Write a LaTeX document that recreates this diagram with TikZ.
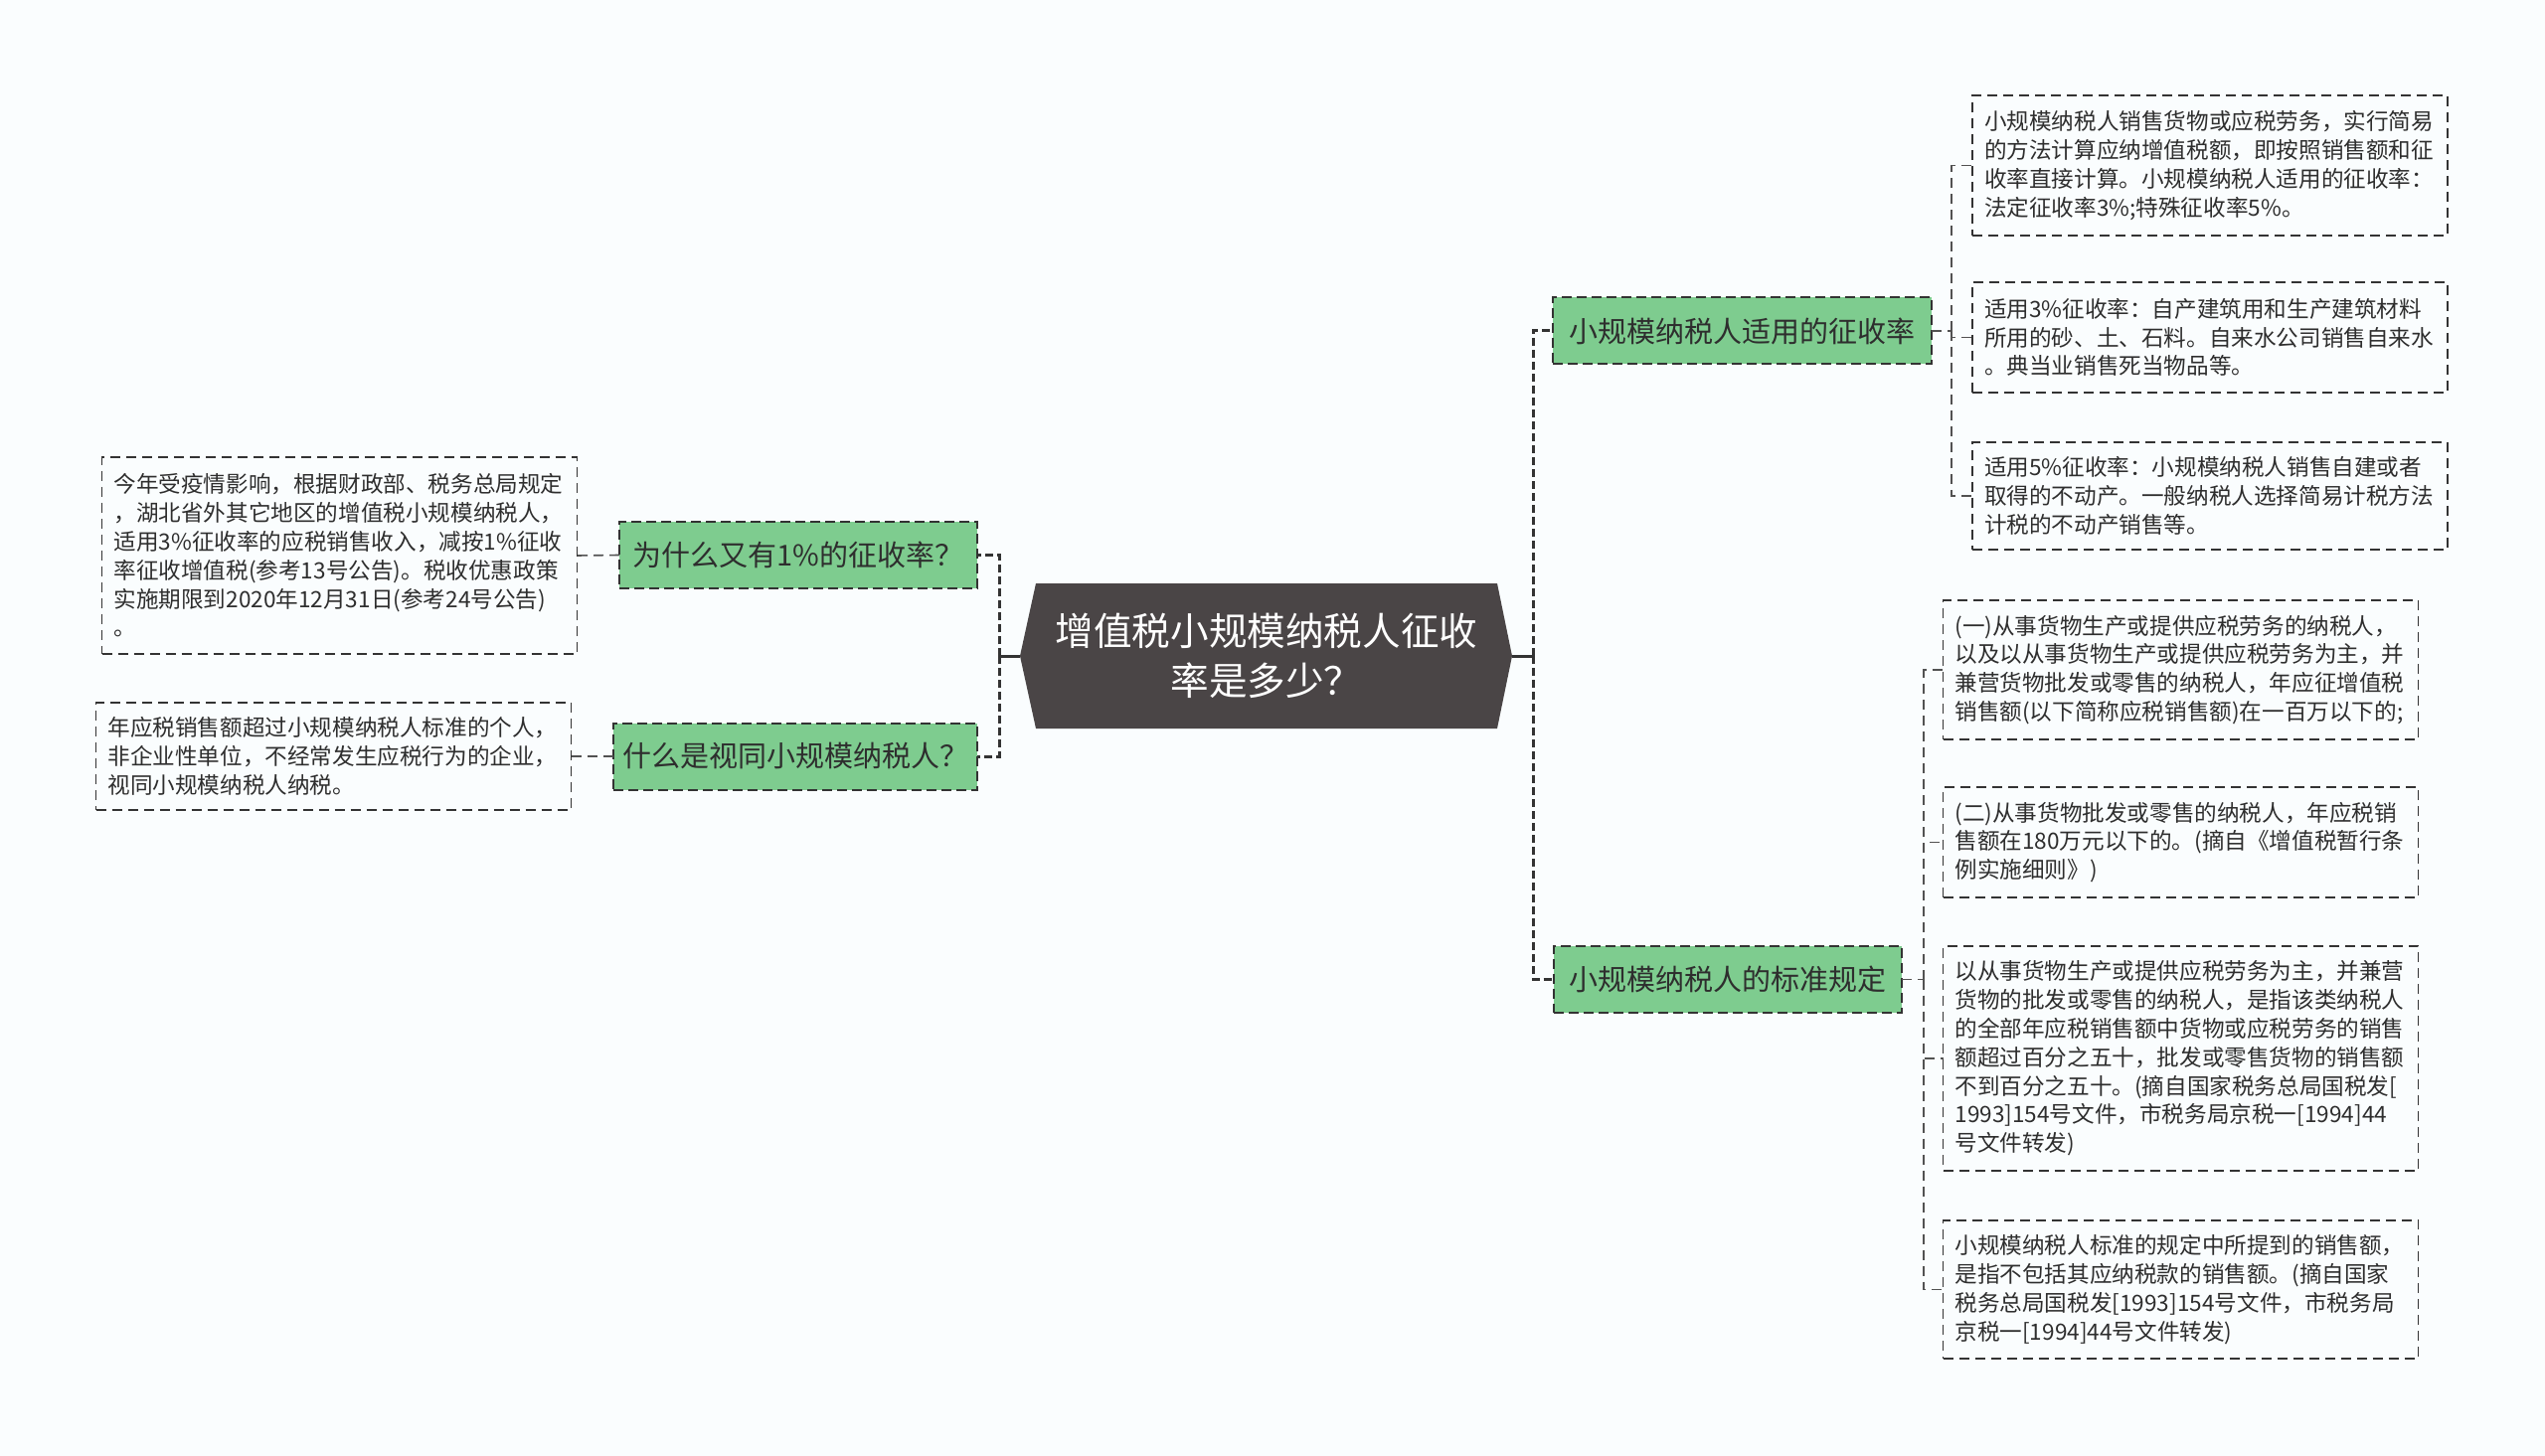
\documentclass[tikz,border=0pt]{standalone}
\usepackage{fontspec}
\setmainfont{Noto Sans CJK SC}
\usetikzlibrary{backgrounds}
\definecolor{bgc}{HTML}{FAFDFE}
\definecolor{darkc}{HTML}{4A4546}
\definecolor{greenc}{HTML}{7ECC8F}
\definecolor{linec}{HTML}{333333}
\definecolor{textc}{HTML}{2E2E2E}
\tikzset{
  centerbox/.style={inner sep=0pt, outer sep=0pt, minimum width=232pt, minimum height=73pt,
    align=center, text=white, font=\fontsize{19.3pt}{25pt}\selectfont},
  greenbox/.style={draw=linec, fill=greenc, line width=1pt, dash pattern=on 5pt off 2.5pt,
    inner sep=0pt, outer sep=0pt, minimum height=33.5pt, text=textc,
    font=\fontsize{14.5pt}{17pt}\selectfont},
  leafbox/.style={draw=linec, line width=0.8pt, dash pattern=on 5pt off 3pt,
    inner xsep=6pt, inner ysep=0pt, outer sep=0pt, text width=227pt, align=left, text=textc,
    font=\fontsize{11.3pt}{14.4pt}\selectfont},
  stub/.style={draw=linec, line width=1.5pt},
  mainconn/.style={draw=linec, line width=1.5pt, dash pattern=on 4pt off 2pt},
  leafconn/.style={draw=linec!85, line width=0.8pt, dash pattern=on 5pt off 3pt},
}
\begin{document}
\begin{tikzpicture}[x=0.5pt,y=-0.5pt]
\useasboundingbox (0,0) rectangle (2560,1465);

% centre
\node[centerbox] (c) at (1274,660) {增值税小规模纳税人征收\\率是多少？};
\coordinate (cl) at (1026,660);
\coordinate (cr) at (1521,660);
\coordinate (busl) at (1005,660);
\coordinate (busr) at (1542,660);

% level 1
\node[greenbox, minimum width=180pt] (g1) at (803,558.5) {为什么又有1\%的征收率？};
\node[greenbox, minimum width=183pt] (g2) at (800,761) {什么是视同小规模纳税人？};
\node[greenbox, minimum width=190.5pt] (g3) at (1752.5,333) {小规模纳税人适用的征收率};
\node[greenbox, minimum width=175pt] (g4) at (1738,985.5) {小规模纳税人的标准规定};

% left leaves
\node[leafbox, minimum height=99pt] (l1) at (341.5,559) {今年受疫情影响，根据财政部、税务总局规定\\，湖北省外其它地区的增值税小规模纳税人，\\适用3\%征收率的应税销售收入，减按1\%征收\\率征收增值税(参考13号公告)。税收优惠政策\\实施期限到2020年12月31日(参考24号公告)\\。};
\node[leafbox, minimum height=54pt] (l2) at (335.5,761) {年应税销售额超过小规模纳税人标准的个人，\\非企业性单位，不经常发生应税行为的企业，\\视同小规模纳税人纳税。};

% right leaves, group 1
\node[leafbox, minimum height=70.5pt] (r1) at (2223,166.5) {小规模纳税人销售货物或应税劳务，实行简易\\的方法计算应纳增值税额，即按照销售额和征\\收率直接计算。小规模纳税人适用的征收率：\\法定征收率3\%;特殊征收率5\%。};
\node[leafbox, minimum height=55.5pt] (r2) at (2223,339.5) {适用3\%征收率：自产建筑用和生产建筑材料\\所用的砂、土、石料。自来水公司销售自来水\\。典当业销售死当物品等。};
\node[leafbox, minimum height=54pt] (r3) at (2223,499) {适用5\%征收率：小规模纳税人销售自建或者\\取得的不动产。一般纳税人选择简易计税方法\\计税的不动产销售等。};

% right leaves, group 2
\node[leafbox, minimum height=70pt] (r4) at (2193.5,674) {(一)从事货物生产或提供应税劳务的纳税人，\\以及以从事货物生产或提供应税劳务为主，并\\兼营货物批发或零售的纳税人，年应征增值税\\销售额(以下简称应税销售额)在一百万以下的;};
\node[leafbox, minimum height=55.5pt] (r5) at (2193.5,847.5) {(二)从事货物批发或零售的纳税人，年应税销\\售额在180万元以下的。(摘自《增值税暂行条\\例实施细则》)};
\node[leafbox, minimum height=113pt] (r6) at (2193.5,1065) {以从事货物生产或提供应税劳务为主，并兼营\\货物的批发或零售的纳税人，是指该类纳税人\\的全部年应税销售额中货物或应税劳务的销售\\额超过百分之五十，批发或零售货物的销售额\\不到百分之五十。(摘自国家税务总局国税发[\\1993]154号文件，市税务局京税一[1994]44\\号文件转发)};
\node[leafbox, minimum height=69.5pt] (r7) at (2193.5,1297.5) {小规模纳税人标准的规定中所提到的销售额，\\是指不包括其应纳税款的销售额。(摘自国家\\税务总局国税发[1993]154号文件，市税务局\\京税一[1994]44号文件转发)};

\coordinate (b3) at (1963,333);
\coordinate (b4) at (1935,985.5);

% background and centre shape
\begin{scope}[on background layer]
  \fill[bgc] (0,0) rectangle (2560,1465);
  \fill[darkc] (c.north west) -- (c.north east) -- (cr) -- (c.south east) -- (c.south west) -- (cl) -- cycle;
\end{scope}

% connectors from centre
\draw[stub] (cl) -- (busl);
\draw[stub] (cr) -- (busr);
\draw[mainconn] (busl) |- (g1.east);
\draw[mainconn] (busl) |- (g2.east);
\draw[mainconn] (busr) |- (g3.west);
\draw[mainconn] (busr) |- (g4.west);

% connectors to leaves
\draw[leafconn] (g1.west) -- (l1.east);
\draw[leafconn] (g2.west) -- (l2.east);
\draw[leafconn] (g3.east) -- (b3);
\draw[leafconn] (b3) |- (r1.west);
\draw[leafconn] (b3) |- (r2.west);
\draw[leafconn] (b3) |- (r3.west);
\draw[leafconn] (g4.east) -- (b4);
\draw[leafconn] (b4) |- (r4.west);
\draw[leafconn] (b4) |- (r5.west);
\draw[leafconn] (b4) |- (r6.west);
\draw[leafconn] (b4) |- (r7.west);
\end{tikzpicture}
\end{document}
